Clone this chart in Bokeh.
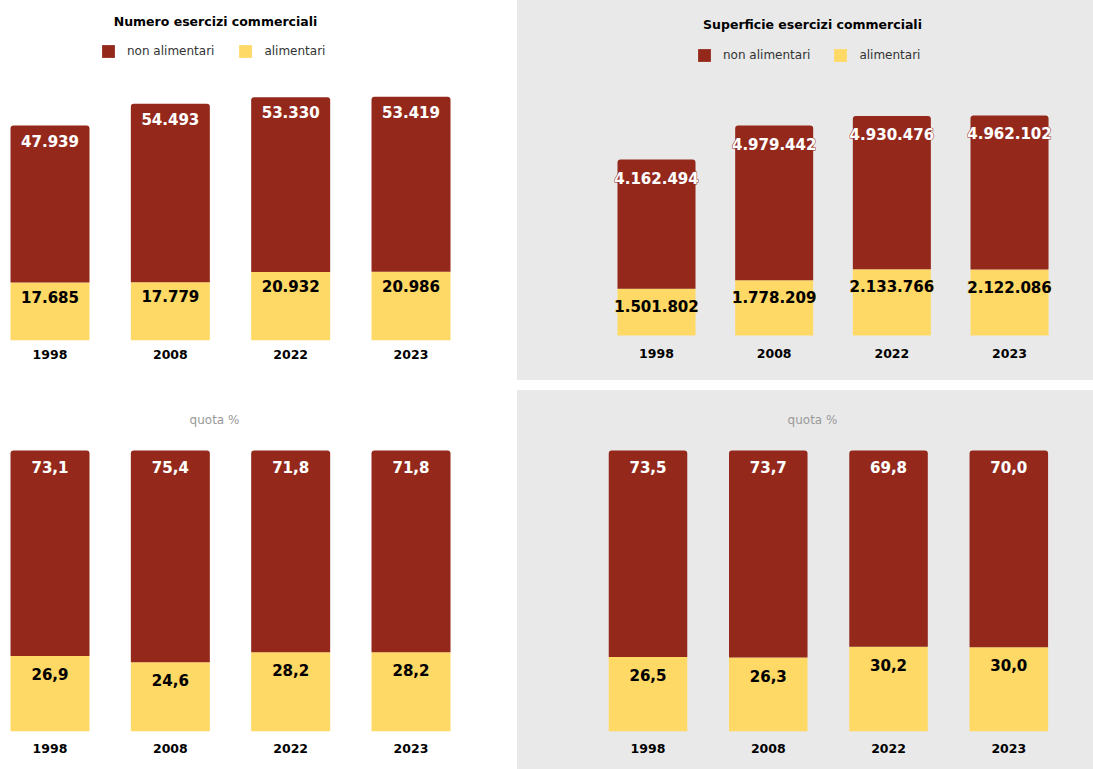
from bokeh.plotting import figure
from bokeh.models import Range1d, FixedTicker, Legend, LegendItem, Label, ColumnDataSource
from bokeh.layouts import row, column
from bokeh.core.properties import value
from bokeh.embed import file_html
from bokeh.resources import INLINE

# ---------------- data ----------------
years = ["1998", "2008", "2022", "2023"]
num_non_alim = [47939, 54493, 53330, 53419]
num_alim = [17685, 17779, 20932, 20986]
sup_non_alim = [4162494, 4979442, 4930476, 4962102]
sup_alim = [1501802, 1778209, 2133766, 2122086]
quota_num_non_alim = [73.1, 75.4, 71.8, 71.8]
quota_num_alim = [26.9, 24.6, 28.2, 28.2]
quota_sup_non_alim = [73.5, 73.7, 69.8, 70.0]
quota_sup_alim = [26.5, 26.3, 30.2, 30.0]

series_names = ["non alimentari", "alimentari"]
title_num = "Numero esercizi commerciali"
title_sup = "Superficie esercizi commerciali"
title_quota = "quota %"

# ---------------- style ----------------
RED = "#93281b"
YELLOW = "#ffd966"
GREY = "#e9e9e9"
FONT = "DejaVu Sans"


def fmt_int(v):
    return f"{v:,}".replace(",", ".")


def fmt_pct(v):
    return f"{v:.1f}".replace(".", ",")


def make_fig(w, h, x0, x1, y0, y1, bottom, bg, standoff):
    p = figure(width=w, height=h, x_range=Range1d(x0, x1), y_range=Range1d(y0, y1),
               output_backend="svg", toolbar_location=None, tools="",
               y_axis_location=None, min_border_left=0, min_border_right=0,
               min_border_top=0, min_border_bottom=bottom,
               background_fill_alpha=0, border_fill_alpha=0,
               outline_line_color=None, styles={"background-color": bg})
    p.grid.visible = False
    xs = list(range(len(years)))
    ax = p.xaxis[0]
    ax.ticker = FixedTicker(ticks=xs)
    ax.major_label_overrides = {i: y for i, y in enumerate(years)}
    ax.axis_line_color = None
    ax.major_tick_line_color = None
    ax.minor_tick_line_color = None
    ax.major_tick_out = 0
    ax.major_tick_in = 0
    ax.major_label_standoff = standoff
    ax.major_label_text_font = FONT
    ax.major_label_text_font_style = "bold"
    ax.major_label_text_font_size = "12.5px"
    ax.major_label_text_color = "#000000"
    return p


def add_bars(p, low_vals, high_vals, width, fmt, label_size, off_top, off_low,
             legend_pos=None, legend_size="12px", standoff=11, spacing=23):
    xs = list(range(len(years)))
    tops = [a + b for a, b in zip(low_vals, high_vals)]
    src = ColumnDataSource(dict(x=xs, low=low_vals, top=tops,
                                low_txt=[fmt(v) for v in low_vals],
                                high_txt=[fmt(v) for v in high_vals]))
    r_low = p.vbar(x="x", bottom=0, top="low", width=width, source=src,
                   fill_color=YELLOW, line_color=None)
    r_high = p.vbar(x="x", bottom="low", top="top", width=width, source=src,
                    fill_color=RED, line_color=None, border_radius=(3, 3, 0, 0))
    # outline pass, then clean fill pass on top
    for outline in (True, False):
        extra_hi = dict(text_outline_color=RED) if outline else {}
        extra_lo = dict(text_outline_color=YELLOW) if outline else {}
        p.text(x="x", y="top", text="high_txt", source=src, y_offset=off_top,
               text_align="center", text_baseline="middle", text_color="#ffffff",
               text_font=value(FONT), text_font_style="bold",
               text_font_size=label_size, **extra_hi)
        p.text(x="x", y="low", text="low_txt", source=src, y_offset=off_low,
               text_align="center", text_baseline="middle", text_color="#000000",
               text_font=value(FONT), text_font_style="bold",
               text_font_size=label_size, **extra_lo)
    if legend_pos is not None:
        leg = Legend(items=[LegendItem(label=series_names[0], renderers=[r_high]),
                            LegendItem(label=series_names[1], renderers=[r_low])],
                     location=legend_pos, orientation="horizontal",
                     padding=0, margin=0, spacing=spacing, label_standoff=standoff,
                     glyph_width=16, glyph_height=16, label_height=16,
                     label_text_font_size=legend_size, label_text_color="#333333",
                     label_text_font=FONT, border_line_color=None,
                     background_fill_alpha=0)
        p.add_layout(leg)


def add_title(p, text, x, y, size, bold=True, color="#000000"):
    p.add_layout(Label(x=x, y=y, x_units="screen", y_units="screen", text=text,
                       text_align="center", text_baseline="middle",
                       text_font=FONT, text_font_size=size,
                       text_font_style="bold" if bold else "normal",
                       text_color=color))


# ---------------- top left: numero ----------------
tl = make_fig(517, 380, -0.4114, 3.885, 0, 103778, 40, "#ffffff", 9)
add_bars(tl, num_alim, num_non_alim, 0.6565, fmt_int, "15px", 15, 14,
         legend_pos=(100, 281), legend_size="12px", standoff=11, spacing=23)
add_title(tl, title_num, 215, 319, "12.5px")

# ---------------- top right: superficie ----------------
tr = make_fig(576, 380, -1.1813, 3.7137, -160950, 10783650, 40, GREY, 8)
add_bars(tr, sup_alim, sup_non_alim, 0.663, fmt_int, "15px", 18, 17,
         legend_pos=(179, 277), legend_size="12px", standoff=11, spacing=22)
add_title(tr, title_sup, 295, 316, "12.5px")

# ---------------- bottom left: quota numero ----------------
bl = make_fig(517, 379, -0.4114, 3.885, 0, 121.35, 38, "#ffffff", 12)
add_bars(bl, quota_num_alim, quota_num_non_alim, 0.6565, fmt_pct, "15px", 17, 18)
add_title(bl, title_quota, 214, 312, "12px", bold=False, color="#999999")

# ---------------- bottom right: quota superficie ----------------
br = make_fig(576, 379, -1.0851, 3.7042, 0, 121.35, 38, GREY, 12)
add_bars(br, quota_sup_alim, quota_sup_non_alim, 0.653, fmt_pct, "15px", 17, 18)
add_title(br, title_quota, 295, 312, "12px", bold=False, color="#999999")

layout = column(row(tl, tr, spacing=0), row(bl, br, spacing=0), spacing=10)

open("out.html", "w").write(file_html(layout, INLINE))
